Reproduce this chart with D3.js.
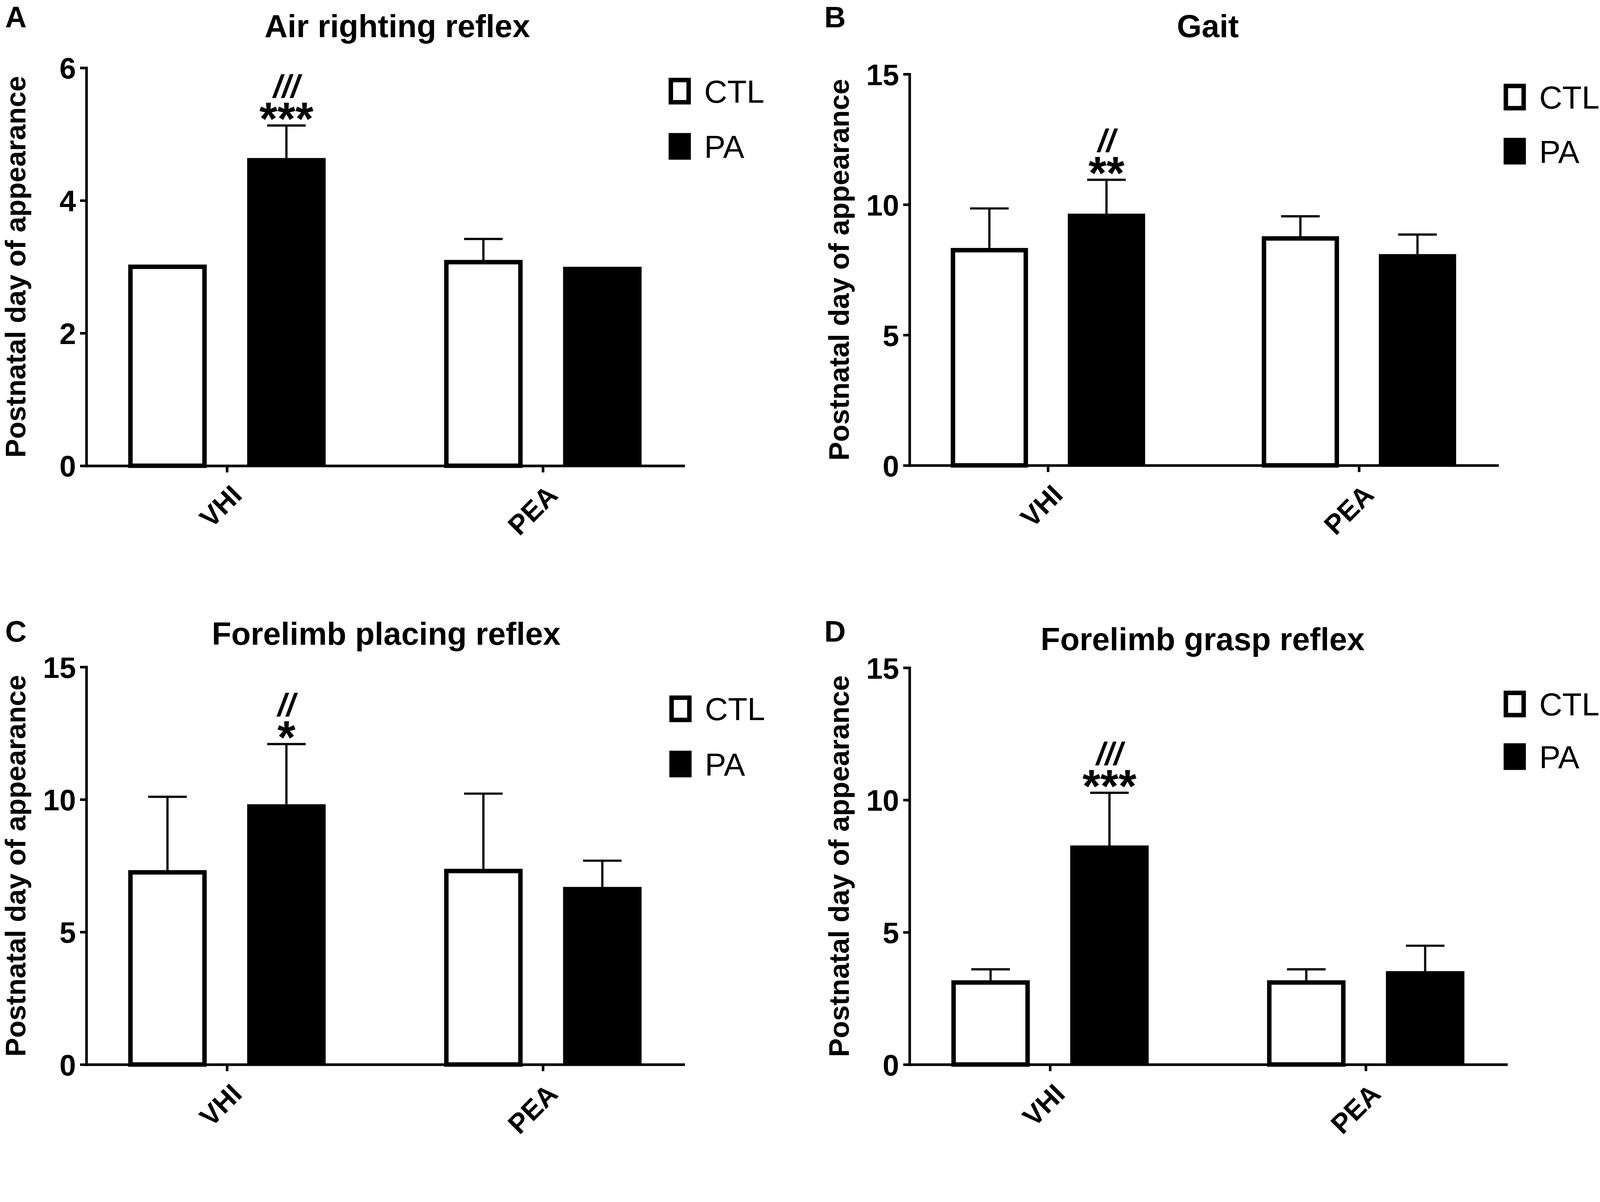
<!DOCTYPE html>
<html lang="en">
<head>
<meta charset="UTF-8">
<title>Postnatal day of appearance of reflexes</title>
<script src="https://d3js.org/d3.v7.min.js"></script>
<style>
    html, body { margin: 0; height: 100%; overflow: hidden; background: #fff; }
    svg { display: block; width: 100vw; height: 100vh; font-family: "Liberation Sans", Arial, sans-serif; }
</style>
</head>
<body>
<svg id="chart" viewBox="0 0 4317 3078" preserveAspectRatio="xMinYMin meet"></svg>
<script>
    // data
    const groups = ["VHI", "PEA"];
    const series = ["CTL", "PA"];
    const panelLetters = ["A", "B", "C", "D"];
    const titles = ["Air righting reflex", "Gait", "Forelimb placing reflex", "Forelimb grasp reflex"];
    const yMax = [6, 15, 15, 15];
    const yTicks = [[0, 2, 4, 6], [0, 5, 10, 15], [0, 5, 10, 15], [0, 5, 10, 15]];
    const ctlMean = [[3.0, 3.07], [8.25, 8.7], [7.25, 7.3], [3.1, 3.1]];
    const ctlSem = [[0, 0.35], [1.6, 0.85], [2.85, 2.92], [0.5, 0.5]];
    const paMean = [[4.64, 3.0], [9.65, 8.1], [9.82, 6.7], [8.28, 3.53]];
    const paSem = [[0.49, 0], [1.3, 0.75], [2.27, 0.99], [1.99, 0.96]];
    const stars = [["", "***", "", ""], ["", "**", "", ""], ["", "*", "", ""], ["", "***", "", ""]];
    const hashes = [["", "///", "", ""], ["", "//", "", ""], ["", "//", "", ""], ["", "///", "", ""]];
    const yLabel = "Postnatal day of appearance";

    // where each panel sits on the page
    const layout = [
        { x0: 233, x1: 1844, yTop: 183, yBot: 1257, titleX: 1072, titleY: 100, letterX: 14, letterY: 74, legX: 1804, legY: [246, 395] },
        { x0: 2454, x1: 4040, yTop: 200, yBot: 1256, titleX: 3259, titleY: 100, letterX: 2224, letterY: 74, legX: 4057, legY: [262, 408] },
        { x0: 233, x1: 1844, yTop: 1800, yBot: 2873, titleX: 1042, titleY: 1740, letterX: 14, letterY: 1732, legX: 1806, legY: [1913, 2062] },
        { x0: 2454, x1: 4064, yTop: 1802, yBot: 2873, titleX: 3245, titleY: 1755, letterX: 2224, letterY: 1732, legX: 4057, legY: [1900, 2042] }
    ];

    const svg = d3.select("#chart");
    const axisW = 7, barStroke = 12;

    panelLetters.forEach((letter, i) => {
        const L = layout[i];
        const g = svg.append("g");

        const x0 = d3.scalePoint().domain(groups).range([L.x0, L.x1]).padding(0.445);
        const groupW = x0.step() * 0.625;
        const x1 = d3.scaleBand().domain(series).range([-groupW / 2, groupW / 2]).paddingInner(0.34);
        const y = d3.scaleLinear().domain([0, yMax[i]]).range([L.yBot, L.yTop]);

        // rows: one per group x series
        const rows = [];
        groups.forEach((grp, gi) => {
            rows.push({ grp, s: "CTL", v: ctlMean[i][gi], e: ctlSem[i][gi] });
            rows.push({ grp, s: "PA", v: paMean[i][gi], e: paSem[i][gi] });
        });
        rows.forEach((r, k) => { r.star = stars[i][k]; r.hash = hashes[i][k]; });
        const cx = d => x0(d.grp) + x1(d.s) + x1.bandwidth() / 2;

        // error bars (drawn under the bars)
        const eb = g.selectAll(".eb").data(rows.filter(d => d.e > 0)).enter().append("g")
            .attr("stroke", "#000").attr("stroke-width", 6);
        eb.append("line")
            .attr("x1", cx).attr("x2", cx)
            .attr("y1", d => y(d.v)).attr("y2", d => y(d.v + d.e));
        eb.append("line")
            .attr("x1", d => cx(d) - 52).attr("x2", d => cx(d) + 52)
            .attr("y1", d => y(d.v + d.e)).attr("y2", d => y(d.v + d.e));

        // bars
        g.selectAll(".bar").data(rows).enter().append("rect")
            .attr("x", d => x0(d.grp) + x1(d.s) + (d.s === "CTL" ? barStroke / 2 : 0))
            .attr("width", d => x1.bandwidth() - (d.s === "CTL" ? barStroke : 0))
            .attr("y", d => y(d.v))
            .attr("height", d => y(0) - y(d.v))
            .attr("fill", d => d.s === "CTL" ? "#fff" : "#000")
            .attr("stroke", d => d.s === "CTL" ? "#000" : "none")
            .attr("stroke-width", barStroke);

        // significance marks: one text, "///" stacked over "***"
        const mark = g.selectAll(".mark").data(rows.filter(d => d.star)).enter().append("text")
            .attr("text-anchor", "middle")
            .attr("font-weight", "bold");
        mark.append("tspan")
            .attr("x", cx).attr("y", d => y(d.v + d.e) - 76)
            .attr("font-size", 85).attr("font-style", "italic")
            .text(d => d.hash);
        mark.append("tspan")
            .attr("x", cx).attr("y", d => y(d.v + d.e) + 25)
            .attr("font-size", 125)
            .text(d => d.star);

        // axes
        const ya = g.append("g").attr("transform", `translate(${L.x0},0)`)
            .call(d3.axisLeft(y).tickValues(yTicks[i]).tickSize(17).tickSizeOuter(0).tickPadding(11).tickFormat(d3.format("d")));
        const xa = g.append("g").attr("transform", `translate(0,${L.yBot})`)
            .call(d3.axisBottom(x0).tickSize(18).tickSizeOuter(0));
        [ya, xa].forEach(a => {
            a.select(".domain").attr("stroke-width", axisW).attr("stroke-linecap", "square");
            a.selectAll(".tick line").attr("stroke-width", axisW);
            a.selectAll("text").attr("font-family", "Liberation Sans, Arial, sans-serif")
                .attr("font-weight", "bold").attr("fill", "#000");
        });
        ya.selectAll("text").attr("font-size", 80).attr("dy", "0.36em");
        xa.selectAll("text")
            .attr("font-size", 74)
            .attr("x", 0).attr("y", 0).attr("dy", 0)
            .attr("text-anchor", "end")
            .attr("transform", "translate(44,84) rotate(-45)");

        // y axis title
        g.append("text")
            .attr("transform", `translate(${L.x0 - 164},${(L.yTop + L.yBot) / 2}) rotate(-90)`)
            .attr("text-anchor", "middle")
            .attr("font-size", 76).attr("font-weight", "bold")
            .text(yLabel);

        // panel title and letter
        g.append("text")
            .attr("x", L.titleX).attr("y", L.titleY)
            .attr("text-anchor", "middle")
            .attr("font-size", 86).attr("font-weight", "bold")
            .text(titles[i]);
        g.append("text")
            .attr("x", L.letterX).attr("y", L.letterY)
            .attr("font-size", 80).attr("font-weight", "bold")
            .text(letter);

        // legend
        const leg = g.selectAll(".leg").data(series).enter().append("g")
            .attr("transform", (d, k) => `translate(${L.legX},${L.legY[k]})`);
        leg.append("rect")
            .attr("x", d => d === "CTL" ? 6 : 0)
            .attr("y", d => d === "CTL" ? -30 : -36)
            .attr("width", d => d === "CTL" ? 48 : 60)
            .attr("height", d => d === "CTL" ? 60 : 72)
            .attr("fill", d => d === "CTL" ? "#fff" : "#000")
            .attr("stroke", d => d === "CTL" ? "#000" : "none")
            .attr("stroke-width", barStroke);
        leg.append("text")
            .attr("x", 96).attr("y", 31)
            .attr("font-size", 86)
            .text(d => d);
    });
</script>
</body>
</html>
